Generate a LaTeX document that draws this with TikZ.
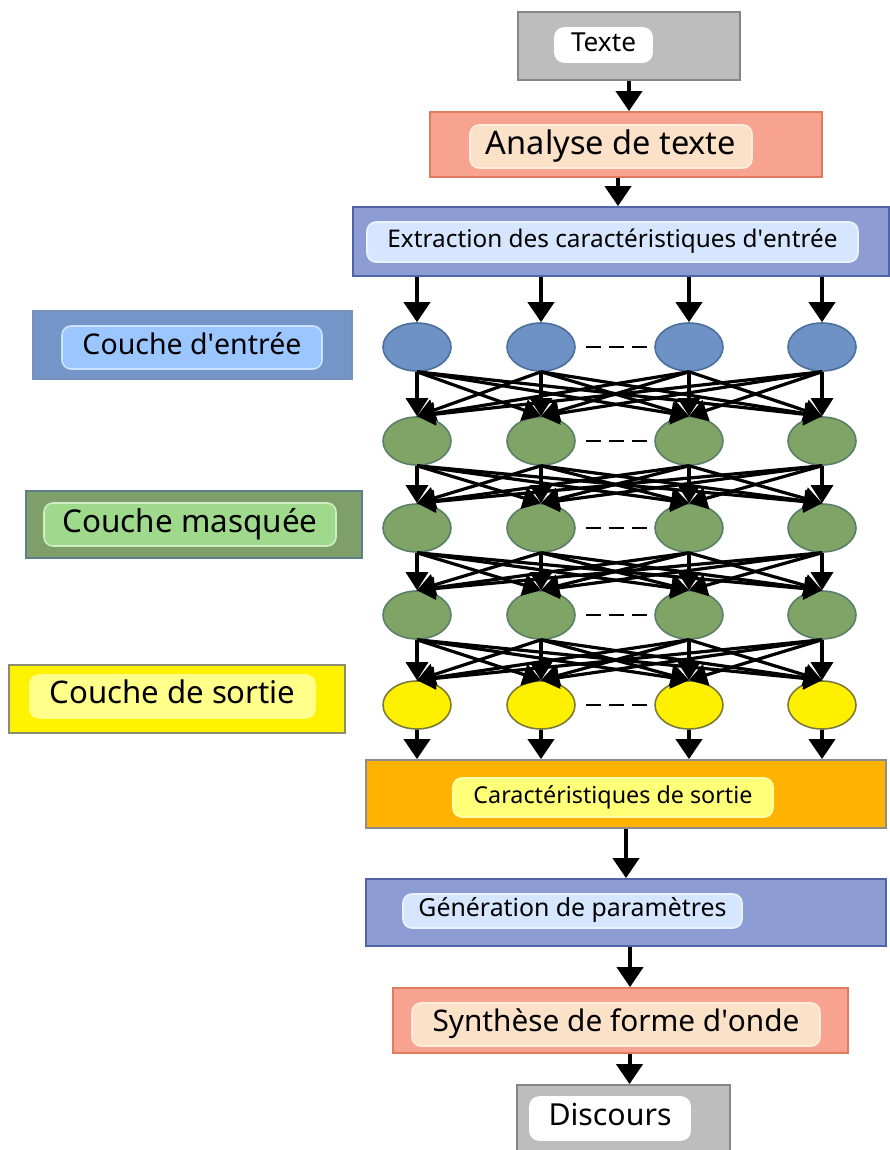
\documentclass[tikz,border=0pt]{standalone}
\usepackage{fontspec}
\setmainfont{Noto Sans}
\usetikzlibrary{arrows.meta,shapes.geometric}
\newcommand{\fitw}[2]{\resizebox{#1}{!}{\strut #2}}
\newcommand{\apos}{\textquotesingle}
\definecolor{grayF}{HTML}{BDBDBD}
\definecolor{grayD}{HTML}{858585}
\definecolor{salF}{HTML}{F8A38F}
\definecolor{salD}{HTML}{E07B60}
\definecolor{salI}{HTML}{FCE1C9}
\definecolor{lavF}{HTML}{8D9DD3}
\definecolor{lavD}{HTML}{4F63A8}
\definecolor{lavI}{HTML}{D6E6FF}
\definecolor{inF}{HTML}{7395C8}
\definecolor{inD}{HTML}{5675A8}
\definecolor{inI}{HTML}{9CC6FF}
\definecolor{hidF}{HTML}{7E9F69}
\definecolor{hidD}{HTML}{5E7E8A}
\definecolor{hidI}{HTML}{9FD98C}
\definecolor{outF}{HTML}{FFF200}
\definecolor{outD}{HTML}{8C8C6E}
\definecolor{outI}{HTML}{FFFF8A}
\definecolor{orF}{HTML}{FFB300}
\definecolor{orD}{HTML}{8C8C8C}
\definecolor{orI}{HTML}{FFFF78}
\definecolor{nBlue}{HTML}{6F92C6}
\definecolor{nBlueD}{HTML}{4C709E}
\definecolor{nGreen}{HTML}{7FA466}
\definecolor{nGreenD}{HTML}{5A7F66}
\definecolor{nYel}{HTML}{FFF000}
\definecolor{nYelD}{HTML}{7C7A3A}
\tikzset{
  outer/.style={draw, line width=1.8pt, inner sep=0pt, rectangle},
  inner/.style={rounded corners=9pt, line width=1.6pt, inner sep=0pt, rectangle},
  neuron/.style={ellipse, draw, line width=1.6pt, minimum width=68pt, minimum height=48pt, inner sep=0pt},
  arr/.style={line width=4pt, -{Triangle[length=20pt,width=26pt]}},
  link/.style={line width=3.2pt, -{Triangle[length=18pt,width=22pt]}},
  dots/.style={line width=2.6pt, dash pattern=on 15pt off 8pt}
}
\begin{document}
\begin{tikzpicture}[x=1pt,y=-1pt]
\useasboundingbox (0,0) rectangle (889,1150);
\fill[white] (0,0) rectangle (889,1150);

% pipeline boxes
\node[outer, fill=grayF, draw=grayD, minimum width=222pt, minimum height=68pt] (texte) at (629,46) {};
\node[inner, fill=white, draw=white, minimum width=97pt, minimum height=34pt] (texteT) at (603.5,45) {\fitw{65pt}{Texte}};

\node[outer, fill=salF, draw=salD, minimum width=392pt, minimum height=65pt] (analyse) at (626,144.5) {};
\node[inner, fill=salI, draw=salI!60!white, minimum width=282pt, minimum height=43pt] (analyseT) at (611,146.5) {\fitw{250pt}{Analyse de texte}};

\node[outer, fill=lavF, draw=lavD, minimum width=536pt, minimum height=69pt] (extr) at (621,241.5) {};
\node[inner, fill=lavI, draw=lavI!50!white, minimum width=491pt, minimum height=40pt] (extrT) at (612.5,242) {\fitw{450pt}{Extraction des caractéristiques d\apos entrée}};

\node[outer, fill=orF, draw=orD, minimum width=520pt, minimum height=68pt] (carac) at (626,794) {};
\node[inner, fill=orI, draw=orI!60!white, minimum width=320pt, minimum height=39pt] (caracT) at (613,797.5) {\fitw{279pt}{Caractéristiques de sortie}};

\node[outer, fill=lavF, draw=lavD, minimum width=520pt, minimum height=67pt] (gen) at (626,912.5) {};
\node[inner, fill=lavI, draw=lavI!50!white, minimum width=339pt, minimum height=34pt] (genT) at (572.5,911) {\fitw{308pt}{Génération de paramètres}};

\node[outer, fill=salF, draw=salD, minimum width=455pt, minimum height=65pt] (synth) at (620.5,1020.5) {};
\node[inner, fill=salI, draw=salI!60!white, minimum width=408pt, minimum height=43pt] (synthT) at (616,1024.5) {\fitw{367pt}{Synthèse de forme d\apos onde}};

\node[outer, fill=grayF, draw=grayD, minimum width=213pt, minimum height=68pt] (disc) at (623.5,1119) {};
\node[inner, fill=white, draw=white, minimum width=160pt, minimum height=43pt] (discT) at (610,1118.5) {\fitw{123pt}{Discours}};

% layer labels
\node[outer, fill=inF, draw=inD!80!white, minimum width=319pt, minimum height=68pt] (lin) at (192.5,345) {};
\node[inner, fill=inI, draw=inI!50!white, minimum width=260pt, minimum height=43pt] (linT) at (192,347.5) {\fitw{219pt}{Couche d\apos entrée}};

\node[outer, fill=hidF, draw=hidD, minimum width=336pt, minimum height=67pt] (lhid) at (194,524.5) {};
\node[inner, fill=hidI, draw=hidI!50!white, minimum width=292pt, minimum height=43pt] (lhidT) at (190,524.5) {\fitw{255pt}{Couche masquée}};

\node[outer, fill=outF, draw=outD, minimum width=336pt, minimum height=68pt] (lout) at (177,699) {};
\node[inner, fill=outI, draw=outI, minimum width=285pt, minimum height=43pt] (loutT) at (172.5,696.5) {\fitw{246pt}{Couche de sortie}};

% neurons
\foreach \c/\x in {1/417,2/541,3/689,4/822}{
  \node[neuron, fill=nBlue, draw=nBlueD] (a\c) at (\x,347) {};
  \node[neuron, fill=nGreen, draw=nGreenD] (b\c) at (\x,441) {};
  \node[neuron, fill=nGreen, draw=nGreenD] (c\c) at (\x,528) {};
  \node[neuron, fill=nGreen, draw=nGreenD] (d\c) at (\x,615) {};
  \node[neuron, fill=nYel, draw=nYelD] (e\c) at (\x,705) {};
}

% dotted gaps between the 2nd and 3rd neuron of each layer
\foreach \l in {a,b,c,d,e}{
  \draw[dots] ([xshift=10pt]\l2.east) -- ([xshift=-6pt]\l3.west);
}

% fully connected links between consecutive layers
\foreach \s/\t in {a/b,b/c,c/d,d/e}{
  \foreach \i in {1,...,4}{
    \foreach \j in {1,...,4}{
      \draw[link] (\s\i.south) -- (\t\j.north);
    }
  }
}

% feature inputs and outputs
\foreach \c in {1,...,4}{
  \draw[arr] (a\c |- extr.south) -- (a\c.north);
  \draw[arr] (e\c.south) -- (e\c |- carac.north);
}

% pipeline arrows
\draw[arr] (texte.south) -- (texte.south |- analyse.north);
\draw[arr] ([xshift=-8pt]analyse.south) -- ([xshift=-8pt]analyse.south |- extr.north);
\draw[arr] (carac.south) -- (carac.south |- gen.north);
\draw[arr] ([xshift=4pt]gen.south) -- ([xshift=4pt]gen.south |- synth.north);
\draw[arr] ([xshift=9pt]synth.south) -- ([xshift=9pt]synth.south |- disc.north);
\end{tikzpicture}
\end{document}
